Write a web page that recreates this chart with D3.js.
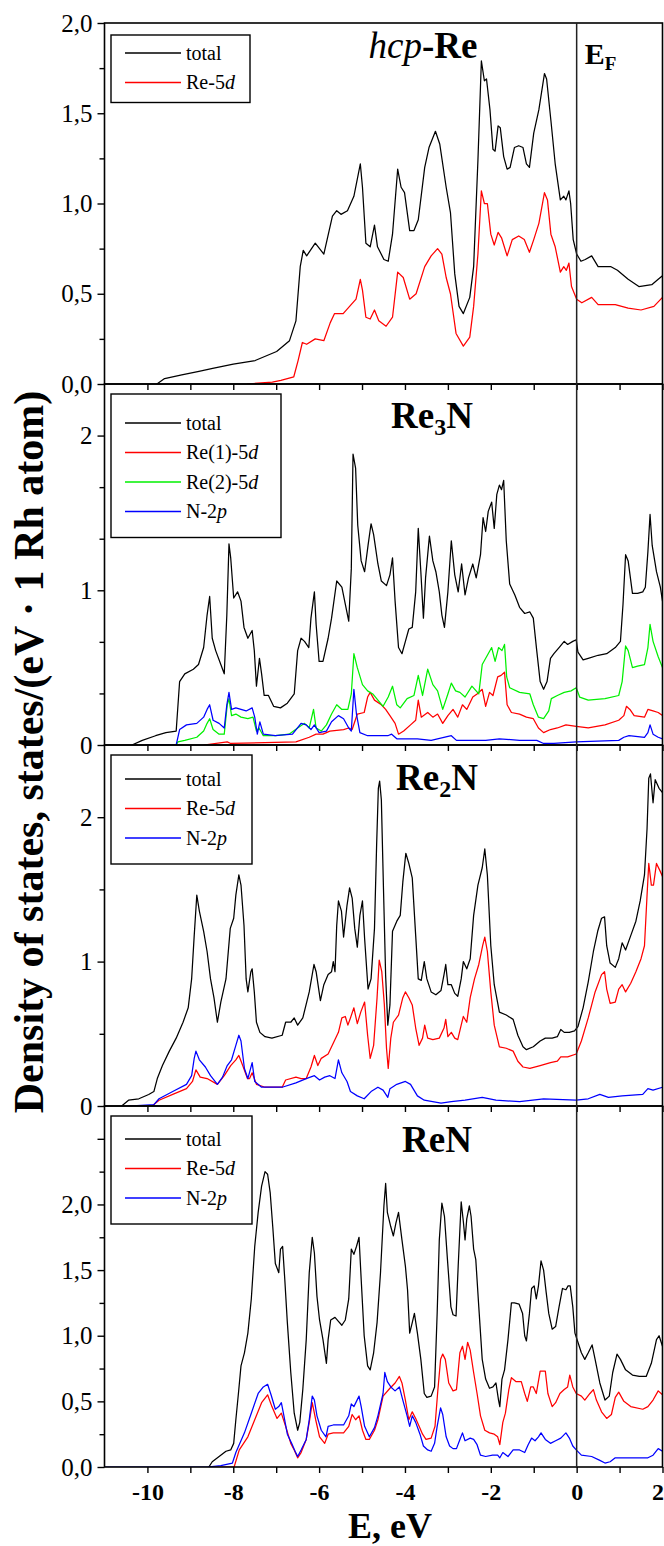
<!DOCTYPE html>
<html>
<head>
<meta charset="utf-8">
<script src="https://cdn.jsdelivr.net/npm/d3@7"></script>
<style>
  body { margin: 0; background: #fff; }
  svg { display: block; font-family: "Liberation Serif", "Times New Roman", serif; }
</style>
</head>
<body>
<svg id="chart" width="664" height="1546"></svg>
<script>
// ---- data: [E (eV), DOS] ----
const hcpTotal = [[-9.78,0],[-9.6,0.03],[-9.2,0.05],[-8.8,0.07],[-8.48,0.087],[-8.0,0.11],[-7.49,0.13],[-6.99,0.18],[-6.69,0.24],[-6.54,0.35],[-6.44,0.65],[-6.37,0.74],[-6.29,0.71],[-6.09,0.78],[-5.89,0.72],[-5.69,0.93],[-5.59,0.96],[-5.49,0.94],[-5.34,0.96],[-5.19,1.04],[-5.04,1.22],[-4.99,1.09],[-4.91,0.78],[-4.81,0.76],[-4.71,0.88],[-4.64,0.76],[-4.49,0.69],[-4.39,0.68],[-4.29,0.83],[-4.17,1.19],[-4.09,1.09],[-4.01,1.06],[-3.89,0.85],[-3.79,0.85],[-3.69,0.91],[-3.54,1.2],[-3.44,1.31],[-3.29,1.4],[-3.19,1.33],[-3.04,1.09],[-2.94,0.95],[-2.84,0.61],[-2.74,0.43],[-2.64,0.39],[-2.49,0.48],[-2.4,0.65],[-2.3,1.24],[-2.22,1.79],[-2.15,1.68],[-2.1,1.69],[-2.02,1.52],[-1.95,1.3],[-1.9,1.29],[-1.83,1.43],[-1.78,1.42],[-1.7,1.26],[-1.62,1.19],[-1.55,1.2],[-1.45,1.31],[-1.35,1.32],[-1.25,1.31],[-1.17,1.22],[-1.1,1.2],[-1.0,1.39],[-0.88,1.52],[-0.75,1.72],[-0.7,1.69],[-0.6,1.46],[-0.5,1.22],[-0.38,1.02],[-0.3,1.04],[-0.25,1.02],[-0.18,1.07],[-0.14,1.0],[-0.08,0.8],[0,0.72],[0.1,0.68],[0.2,0.69],[0.35,0.71],[0.5,0.65],[0.8,0.65],[0.95,0.63],[1.2,0.58],[1.45,0.54],[1.75,0.55],[1.9,0.58],[2.0,0.6]];
const hcpRe5d = [[-7.68,0],[-7.09,0.01],[-6.89,0.02],[-6.59,0.04],[-6.49,0.13],[-6.39,0.23],[-6.29,0.22],[-6.09,0.25],[-5.89,0.24],[-5.74,0.34],[-5.64,0.39],[-5.44,0.39],[-5.29,0.43],[-5.14,0.47],[-5.04,0.58],[-4.99,0.52],[-4.91,0.37],[-4.81,0.36],[-4.71,0.41],[-4.61,0.35],[-4.44,0.32],[-4.29,0.37],[-4.17,0.62],[-4.04,0.59],[-3.89,0.47],[-3.74,0.5],[-3.54,0.65],[-3.39,0.71],[-3.24,0.75],[-3.14,0.72],[-3.04,0.59],[-2.94,0.5],[-2.81,0.28],[-2.64,0.21],[-2.49,0.26],[-2.4,0.43],[-2.3,0.72],[-2.22,1.07],[-2.15,1.0],[-2.08,1.0],[-2.0,0.83],[-1.92,0.77],[-1.83,0.84],[-1.75,0.81],[-1.62,0.71],[-1.5,0.8],[-1.35,0.82],[-1.22,0.8],[-1.1,0.73],[-1.0,0.8],[-0.88,0.89],[-0.75,1.06],[-0.68,1.02],[-0.6,0.83],[-0.5,0.76],[-0.38,0.62],[-0.3,0.65],[-0.24,0.63],[-0.18,0.67],[-0.12,0.54],[0,0.47],[0.12,0.45],[0.35,0.48],[0.5,0.44],[0.9,0.44],[1.2,0.42],[1.5,0.41],[1.8,0.43],[2.0,0.48]];

const re3nTotal = [[-10.36,0],[-10.12,0.03],[-9.81,0.06],[-9.57,0.08],[-9.33,0.09],[-9.25,0.41],[-9.13,0.46],[-8.93,0.49],[-8.81,0.52],[-8.69,0.63],[-8.61,0.84],[-8.55,0.96],[-8.49,0.69],[-8.41,0.61],[-8.29,0.52],[-8.21,0.46],[-8.15,0.84],[-8.1,1.3],[-8.06,1.21],[-7.99,0.95],[-7.9,0.99],[-7.82,0.93],[-7.75,0.76],[-7.66,0.69],[-7.56,0.74],[-7.51,0.61],[-7.46,0.38],[-7.39,0.56],[-7.34,0.46],[-7.28,0.32],[-7.18,0.32],[-7.06,0.25],[-6.9,0.24],[-6.74,0.27],[-6.58,0.33],[-6.5,0.61],[-6.42,0.69],[-6.34,0.67],[-6.24,0.63],[-6.19,0.82],[-6.11,0.99],[-6.07,0.78],[-6.0,0.54],[-5.91,0.54],[-5.79,0.69],[-5.71,0.82],[-5.59,1.06],[-5.47,1.02],[-5.39,0.91],[-5.31,0.8],[-5.25,1.14],[-5.21,1.88],[-5.15,1.79],[-5.1,1.42],[-5.02,1.19],[-4.94,1.12],[-4.86,1.29],[-4.79,1.43],[-4.73,1.36],[-4.63,1.17],[-4.55,1.06],[-4.43,1.03],[-4.35,1.1],[-4.29,1.21],[-4.23,0.93],[-4.15,0.63],[-4.07,0.59],[-3.99,0.67],[-3.91,0.75],[-3.83,0.76],[-3.75,0.99],[-3.69,1.4],[-3.63,1.12],[-3.57,0.82],[-3.52,1.08],[-3.43,1.35],[-3.35,1.19],[-3.28,1.12],[-3.2,0.99],[-3.14,0.84],[-3.08,0.76],[-3.0,0.99],[-2.92,1.32],[-2.84,1.1],[-2.76,0.99],[-2.68,1.17],[-2.6,0.97],[-2.52,1.08],[-2.42,1.17],[-2.34,1.08],[-2.24,1.23],[-2.18,1.47],[-2.12,1.38],[-2.06,1.51],[-1.98,1.57],[-1.92,1.4],[-1.86,1.62],[-1.8,1.68],[-1.75,1.65],[-1.7,1.71],[-1.64,1.32],[-1.56,1.04],[-1.44,0.97],[-1.33,0.89],[-1.21,0.85],[-1.09,0.86],[-1.01,0.82],[-0.93,0.61],[-0.85,0.41],[-0.77,0.36],[-0.69,0.41],[-0.61,0.56],[-0.53,0.59],[-0.41,0.63],[-0.29,0.67],[-0.21,0.65],[-0.09,0.67],[-0.01,0.68],[0.03,0.6],[0.15,0.55],[0.27,0.56],[0.5,0.58],[0.7,0.59],[0.9,0.63],[1.02,0.67],[1.08,0.91],[1.14,1.23],[1.2,1.19],[1.3,0.98],[1.42,0.98],[1.54,0.99],[1.6,1.02],[1.66,1.25],[1.71,1.49],[1.76,1.29],[1.86,1.12],[1.95,1.02],[2.0,0.93]];
const re3nRe1 = [[-8.69,0],[-8.14,0.02],[-8.06,0.01],[-6.54,0.02],[-6.23,0.05],[-6.07,0.07],[-5.91,0.07],[-5.75,0.09],[-5.43,0.1],[-5.31,0.11],[-5.23,0.1],[-5.11,0.2],[-4.95,0.21],[-4.87,0.31],[-4.81,0.34],[-4.71,0.29],[-4.55,0.26],[-4.45,0.23],[-4.35,0.19],[-4.23,0.14],[-4.15,0.07],[-4.03,0.09],[-3.87,0.13],[-3.75,0.16],[-3.69,0.29],[-3.62,0.18],[-3.47,0.21],[-3.35,0.18],[-3.24,0.2],[-3.12,0.14],[-3.0,0.19],[-2.88,0.23],[-2.77,0.18],[-2.66,0.26],[-2.56,0.23],[-2.42,0.31],[-2.32,0.33],[-2.2,0.36],[-2.12,0.25],[-2.03,0.34],[-1.95,0.32],[-1.84,0.44],[-1.76,0.45],[-1.68,0.47],[-1.62,0.26],[-1.52,0.21],[-1.33,0.2],[-1.17,0.18],[-1.01,0.17],[-0.89,0.11],[-0.77,0.08],[-0.61,0.1],[-0.45,0.11],[-0.25,0.13],[-0.01,0.12],[0.27,0.11],[0.66,0.13],[0.98,0.16],[1.1,0.19],[1.16,0.25],[1.24,0.23],[1.34,0.19],[1.58,0.18],[1.66,0.23],[1.78,0.22],[1.9,0.21],[2.0,0.19]];
const re3nRe2 = [[-9.33,0],[-9.29,0.02],[-9.13,0.03],[-8.85,0.05],[-8.69,0.09],[-8.61,0.14],[-8.55,0.17],[-8.47,0.1],[-8.33,0.07],[-8.21,0.07],[-8.14,0.26],[-8.1,0.3],[-8.04,0.19],[-7.94,0.2],[-7.82,0.18],[-7.66,0.17],[-7.54,0.18],[-7.46,0.09],[-7.4,0.11],[-7.3,0.06],[-7.02,0.06],[-6.7,0.07],[-6.5,0.11],[-6.34,0.14],[-6.23,0.11],[-6.13,0.23],[-6.07,0.11],[-5.95,0.09],[-5.83,0.13],[-5.71,0.2],[-5.59,0.26],[-5.47,0.23],[-5.33,0.23],[-5.25,0.33],[-5.19,0.59],[-5.11,0.5],[-4.99,0.39],[-4.87,0.35],[-4.75,0.33],[-4.63,0.29],[-4.51,0.25],[-4.39,0.31],[-4.29,0.38],[-4.19,0.26],[-4.11,0.24],[-3.95,0.3],[-3.79,0.32],[-3.69,0.45],[-3.59,0.32],[-3.47,0.49],[-3.35,0.39],[-3.24,0.35],[-3.12,0.23],[-3.0,0.33],[-2.92,0.4],[-2.82,0.35],[-2.72,0.34],[-2.6,0.31],[-2.44,0.38],[-2.28,0.33],[-2.2,0.52],[-2.08,0.58],[-1.98,0.63],[-1.9,0.54],[-1.82,0.63],[-1.74,0.61],[-1.68,0.65],[-1.63,0.44],[-1.56,0.37],[-1.33,0.34],[-1.09,0.33],[-1.01,0.26],[-0.89,0.18],[-0.77,0.17],[-0.65,0.22],[-0.59,0.3],[-0.45,0.32],[-0.29,0.34],[-0.13,0.35],[-0.01,0.37],[0.07,0.31],[0.27,0.29],[0.66,0.3],[0.98,0.32],[1.06,0.41],[1.14,0.64],[1.2,0.61],[1.3,0.5],[1.42,0.51],[1.58,0.52],[1.66,0.63],[1.71,0.78],[1.78,0.67],[1.9,0.57],[2.0,0.5]];
const re3nN2p = [[-10.05,0],[-9.33,0],[-9.25,0.1],[-9.09,0.13],[-8.85,0.14],[-8.69,0.18],[-8.61,0.23],[-8.55,0.26],[-8.47,0.16],[-8.33,0.14],[-8.21,0.11],[-8.15,0.26],[-8.1,0.34],[-8.04,0.23],[-7.94,0.24],[-7.82,0.23],[-7.7,0.22],[-7.56,0.24],[-7.5,0.18],[-7.44,0.07],[-7.38,0.15],[-7.3,0.07],[-7.02,0.06],[-6.62,0.07],[-6.42,0.14],[-6.3,0.13],[-6.19,0.1],[-6.11,0.13],[-6.0,0.08],[-5.83,0.09],[-5.71,0.15],[-5.55,0.19],[-5.43,0.17],[-5.31,0.11],[-5.25,0.09],[-5.19,0.36],[-5.13,0.2],[-5.05,0.08],[-4.87,0.06],[-4.4,0.06],[-4.31,0.07],[-4.19,0.04],[-3.71,0.04],[-3.39,0.03],[-2.92,0.06],[-2.8,0.03],[-2.12,0.03],[-1.8,0.04],[-1.33,0.03],[-0.93,0.03],[-0.77,0.01],[-0.53,0.01],[-0.01,0.02],[0.98,0.03],[1.1,0.05],[1.22,0.06],[1.58,0.05],[1.66,0.08],[1.71,0.13],[1.78,0.07],[1.9,0.05],[2.0,0.04]];

const re2nTotal = [[-10.6,0],[-10.44,0.04],[-10.2,0.05],[-9.97,0.08],[-9.85,0.1],[-9.77,0.19],[-9.65,0.28],[-9.49,0.38],[-9.33,0.47],[-9.17,0.58],[-9.05,0.68],[-8.97,0.88],[-8.91,1.18],[-8.85,1.46],[-8.79,1.35],[-8.69,1.21],[-8.61,1.07],[-8.53,0.88],[-8.45,0.75],[-8.37,0.58],[-8.29,0.72],[-8.17,0.88],[-8.07,1.23],[-7.99,1.3],[-7.94,1.46],[-7.87,1.6],[-7.82,1.53],[-7.75,1.25],[-7.7,0.88],[-7.66,0.79],[-7.59,0.93],[-7.56,0.95],[-7.51,0.79],[-7.46,0.58],[-7.38,0.51],[-7.26,0.48],[-7.1,0.47],[-6.86,0.49],[-6.78,0.58],[-6.66,0.58],[-6.58,0.61],[-6.5,0.56],[-6.38,0.61],[-6.23,0.79],[-6.12,0.98],[-6.07,0.93],[-5.97,0.73],[-5.89,0.84],[-5.79,0.91],[-5.71,0.93],[-5.67,1.0],[-5.63,0.93],[-5.59,1.25],[-5.55,1.42],[-5.48,1.35],[-5.43,1.17],[-5.35,1.39],[-5.29,1.51],[-5.23,1.44],[-5.17,1.23],[-5.11,1.1],[-5.05,1.32],[-4.99,1.42],[-4.94,1.16],[-4.86,0.81],[-4.79,0.88],[-4.71,1.23],[-4.66,1.81],[-4.62,2.2],[-4.59,2.25],[-4.55,2.12],[-4.5,1.5],[-4.45,0.9],[-4.4,0.56],[-4.35,0.7],[-4.29,1.21],[-4.19,1.28],[-4.11,1.32],[-4.05,1.55],[-3.98,1.75],[-3.91,1.68],[-3.83,1.58],[-3.75,1.18],[-3.69,0.88],[-3.62,0.87],[-3.55,1.0],[-3.49,0.88],[-3.39,0.79],[-3.28,0.77],[-3.16,0.8],[-3.09,0.91],[-3.05,0.98],[-3.0,0.84],[-2.92,0.84],[-2.84,0.78],[-2.77,0.76],[-2.69,0.88],[-2.64,1.0],[-2.56,0.95],[-2.48,1.02],[-2.4,1.32],[-2.3,1.53],[-2.2,1.65],[-2.14,1.78],[-2.08,1.6],[-2.0,1.11],[-1.92,0.84],[-1.8,0.65],[-1.64,0.63],[-1.48,0.6],[-1.37,0.49],[-1.25,0.41],[-1.17,0.39],[-1.01,0.41],[-0.85,0.45],[-0.73,0.47],[-0.57,0.47],[-0.45,0.48],[-0.37,0.53],[-0.29,0.51],[-0.17,0.51],[-0.05,0.52],[0.03,0.55],[0.15,0.68],[0.27,0.86],[0.39,1.07],[0.49,1.21],[0.58,1.3],[0.65,1.31],[0.7,1.11],[0.78,0.99],[0.9,0.96],[0.98,1.02],[1.06,1.13],[1.14,1.08],[1.26,1.18],[1.38,1.28],[1.48,1.42],[1.58,1.6],[1.64,1.92],[1.68,2.27],[1.72,2.3],[1.78,2.1],[1.83,2.26],[1.92,2.2],[2.0,2.17]];
const re2nRe5d = [[-10.44,0],[-9.89,0],[-9.73,0.04],[-9.41,0.08],[-9.09,0.12],[-8.95,0.17],[-8.87,0.25],[-8.77,0.2],[-8.61,0.19],[-8.37,0.15],[-8.21,0.21],[-8.06,0.28],[-7.94,0.32],[-7.87,0.35],[-7.78,0.28],[-7.67,0.19],[-7.62,0.19],[-7.56,0.23],[-7.46,0.15],[-7.26,0.13],[-6.86,0.13],[-6.78,0.18],[-6.54,0.2],[-6.42,0.19],[-6.3,0.19],[-6.19,0.27],[-6.11,0.35],[-6.03,0.28],[-5.95,0.33],[-5.79,0.36],[-5.63,0.46],[-5.55,0.51],[-5.47,0.61],[-5.39,0.62],[-5.33,0.56],[-5.27,0.61],[-5.19,0.68],[-5.11,0.57],[-5.03,0.65],[-4.94,0.72],[-4.87,0.49],[-4.81,0.33],[-4.73,0.42],[-4.65,0.75],[-4.6,1.01],[-4.54,0.93],[-4.48,0.7],[-4.43,0.4],[-4.39,0.26],[-4.33,0.47],[-4.27,0.58],[-4.15,0.63],[-4.05,0.75],[-3.99,0.79],[-3.91,0.75],[-3.83,0.7],[-3.75,0.54],[-3.67,0.42],[-3.59,0.47],[-3.54,0.56],[-3.47,0.47],[-3.35,0.46],[-3.2,0.47],[-3.09,0.54],[-3.05,0.6],[-3.0,0.48],[-2.92,0.51],[-2.84,0.47],[-2.77,0.46],[-2.69,0.56],[-2.64,0.62],[-2.56,0.58],[-2.48,0.75],[-2.38,0.88],[-2.28,0.98],[-2.19,1.11],[-2.14,1.17],[-2.08,1.07],[-2.0,0.79],[-1.92,0.56],[-1.8,0.41],[-1.64,0.4],[-1.48,0.38],[-1.37,0.31],[-1.25,0.27],[-1.09,0.26],[-0.85,0.28],[-0.61,0.3],[-0.45,0.31],[-0.37,0.34],[-0.21,0.34],[-0.01,0.36],[0.11,0.45],[0.27,0.61],[0.43,0.79],[0.58,0.91],[0.65,0.93],[0.7,0.81],[0.78,0.71],[0.9,0.72],[0.98,0.81],[1.06,0.84],[1.14,0.79],[1.26,0.85],[1.38,0.93],[1.5,1.02],[1.58,1.11],[1.64,1.46],[1.68,1.68],[1.74,1.53],[1.79,1.53],[1.86,1.68],[1.94,1.63],[2.0,1.59]];
const re2nN2p = [[-10.44,0],[-9.85,0.01],[-9.73,0.05],[-9.41,0.1],[-9.09,0.15],[-8.97,0.21],[-8.91,0.33],[-8.87,0.38],[-8.79,0.32],[-8.65,0.27],[-8.53,0.21],[-8.37,0.15],[-8.25,0.2],[-8.14,0.28],[-8.04,0.32],[-7.94,0.42],[-7.87,0.49],[-7.82,0.45],[-7.74,0.26],[-7.66,0.19],[-7.56,0.3],[-7.5,0.17],[-7.34,0.13],[-6.86,0.13],[-6.54,0.16],[-6.3,0.19],[-6.11,0.21],[-5.99,0.18],[-5.87,0.2],[-5.75,0.21],[-5.63,0.19],[-5.55,0.32],[-5.47,0.23],[-5.35,0.17],[-5.27,0.1],[-5.11,0.07],[-4.95,0.05],[-4.79,0.1],[-4.63,0.13],[-4.51,0.11],[-4.4,0.06],[-4.35,0.12],[-4.19,0.15],[-3.99,0.17],[-3.87,0.15],[-3.71,0.07],[-3.55,0.04],[-3.16,0.02],[-2.92,0.03],[-2.6,0.04],[-2.2,0.06],[-1.88,0.04],[-1.33,0.03],[-0.77,0.05],[-0.01,0.04],[0.27,0.05],[0.54,0.08],[0.74,0.06],[1.06,0.07],[1.54,0.08],[1.66,0.12],[1.78,0.11],[2.0,0.13]];

const renTotal = [[-8.57,0],[-8.49,0.04],[-8.33,0.08],[-8.17,0.12],[-8.06,0.13],[-7.99,0.18],[-7.94,0.36],[-7.88,0.56],[-7.82,0.77],[-7.74,0.87],[-7.66,1.02],[-7.58,1.28],[-7.5,1.68],[-7.42,1.94],[-7.34,2.14],[-7.26,2.25],[-7.2,2.23],[-7.14,2.09],[-7.08,1.83],[-7.02,1.55],[-6.94,1.48],[-6.9,1.66],[-6.85,1.68],[-6.8,1.43],[-6.74,1.1],[-6.66,0.72],[-6.58,0.41],[-6.5,0.28],[-6.45,0.34],[-6.38,0.59],[-6.3,0.97],[-6.23,1.48],[-6.16,1.75],[-6.11,1.63],[-6.05,1.3],[-5.99,1.12],[-5.91,0.97],[-5.83,0.79],[-5.79,0.97],[-5.73,1.12],[-5.63,1.14],[-5.55,1.11],[-5.47,1.08],[-5.39,1.12],[-5.31,1.28],[-5.25,1.66],[-5.19,1.62],[-5.13,1.68],[-5.07,1.75],[-5.02,1.43],[-4.95,1.0],[-4.87,0.77],[-4.81,0.74],[-4.73,0.87],[-4.65,1.1],[-4.57,1.48],[-4.49,1.99],[-4.45,2.16],[-4.41,1.94],[-4.33,1.83],[-4.27,1.76],[-4.21,1.86],[-4.15,1.94],[-4.07,1.73],[-3.99,1.53],[-3.94,1.35],[-3.89,1.02],[-3.83,1.1],[-3.78,1.17],[-3.71,1.02],[-3.63,0.82],[-3.55,0.56],[-3.49,0.53],[-3.39,0.54],[-3.31,0.61],[-3.25,1.17],[-3.2,1.73],[-3.14,2.01],[-3.08,1.91],[-3.01,1.58],[-2.93,1.22],[-2.88,1.16],[-2.81,1.15],[-2.76,1.53],[-2.69,2.02],[-2.64,1.87],[-2.6,1.73],[-2.56,1.89],[-2.5,1.99],[-2.46,1.91],[-2.4,1.66],[-2.35,1.58],[-2.28,1.22],[-2.2,0.82],[-2.12,0.67],[-2.03,0.6],[-1.95,0.61],[-1.88,0.64],[-1.82,0.51],[-1.79,0.46],[-1.74,0.67],[-1.68,0.74],[-1.6,0.97],[-1.52,1.25],[-1.45,1.25],[-1.34,1.24],[-1.26,1.17],[-1.21,1.0],[-1.17,0.96],[-1.1,1.17],[-1.05,1.36],[-0.99,1.38],[-0.94,1.28],[-0.89,1.38],[-0.83,1.57],[-0.77,1.5],[-0.71,1.33],[-0.65,1.17],[-0.57,1.05],[-0.49,1.07],[-0.41,1.22],[-0.33,1.36],[-0.25,1.35],[-0.2,1.38],[-0.15,1.38],[-0.09,1.22],[-0.04,1.02],[0.03,0.95],[0.11,0.87],[0.19,0.82],[0.27,0.87],[0.36,0.93],[0.43,0.82],[0.54,0.64],[0.66,0.51],[0.76,0.54],[0.84,0.72],[0.94,0.86],[1.02,0.82],[1.14,0.74],[1.3,0.7],[1.46,0.69],[1.62,0.69],[1.74,0.79],[1.86,0.97],[1.92,1.0],[2.0,0.92]];
const renRe5d = [[-8.57,0],[-7.98,0],[-7.86,0.13],[-7.66,0.23],[-7.5,0.36],[-7.34,0.49],[-7.2,0.55],[-7.1,0.46],[-6.98,0.37],[-6.88,0.41],[-6.78,0.31],[-6.66,0.18],[-6.58,0.13],[-6.5,0.07],[-6.42,0.11],[-6.3,0.21],[-6.23,0.34],[-6.16,0.49],[-6.08,0.36],[-5.99,0.23],[-5.87,0.18],[-5.79,0.25],[-5.67,0.26],[-5.43,0.26],[-5.31,0.31],[-5.23,0.4],[-5.15,0.36],[-5.07,0.39],[-4.99,0.28],[-4.91,0.21],[-4.83,0.21],[-4.71,0.28],[-4.63,0.36],[-4.51,0.54],[-4.35,0.6],[-4.23,0.64],[-4.13,0.69],[-4.07,0.64],[-3.99,0.51],[-3.91,0.36],[-3.83,0.42],[-3.75,0.37],[-3.67,0.31],[-3.59,0.25],[-3.51,0.21],[-3.39,0.22],[-3.3,0.31],[-3.24,0.56],[-3.17,0.82],[-3.12,0.86],[-3.06,0.82],[-2.98,0.64],[-2.88,0.58],[-2.8,0.59],[-2.72,0.87],[-2.66,0.92],[-2.6,0.82],[-2.54,0.95],[-2.48,0.89],[-2.4,0.72],[-2.32,0.56],[-2.24,0.39],[-2.14,0.28],[-2.03,0.26],[-1.92,0.25],[-1.84,0.23],[-1.79,0.17],[-1.72,0.34],[-1.66,0.41],[-1.58,0.59],[-1.52,0.68],[-1.41,0.65],[-1.29,0.65],[-1.21,0.56],[-1.15,0.5],[-1.07,0.61],[-1.01,0.61],[-0.94,0.56],[-0.85,0.73],[-0.73,0.73],[-0.67,0.56],[-0.57,0.46],[-0.49,0.49],[-0.39,0.56],[-0.29,0.59],[-0.21,0.61],[-0.16,0.7],[-0.09,0.61],[-0.01,0.56],[0.11,0.54],[0.19,0.51],[0.31,0.56],[0.39,0.59],[0.46,0.51],[0.58,0.42],[0.7,0.37],[0.81,0.4],[0.9,0.53],[0.98,0.57],[1.1,0.5],[1.26,0.46],[1.54,0.44],[1.66,0.46],[1.78,0.51],[1.9,0.58],[2.0,0.55]];
const renN2p = [[-11,0],[-8.61,0],[-8.29,0.01],[-8.02,0.03],[-7.94,0.11],[-7.74,0.26],[-7.58,0.41],[-7.42,0.56],[-7.3,0.61],[-7.2,0.63],[-7.12,0.55],[-7.02,0.44],[-6.94,0.46],[-6.88,0.49],[-6.82,0.39],[-6.74,0.25],[-6.64,0.18],[-6.56,0.12],[-6.5,0.08],[-6.42,0.13],[-6.3,0.21],[-6.23,0.36],[-6.16,0.54],[-6.11,0.51],[-6.05,0.39],[-5.95,0.28],[-5.84,0.23],[-5.79,0.31],[-5.67,0.32],[-5.43,0.32],[-5.31,0.39],[-5.25,0.48],[-5.19,0.46],[-5.07,0.54],[-5.02,0.46],[-4.94,0.31],[-4.83,0.23],[-4.71,0.3],[-4.63,0.39],[-4.51,0.56],[-4.47,0.72],[-4.41,0.65],[-4.33,0.61],[-4.23,0.58],[-4.13,0.61],[-4.05,0.51],[-3.95,0.39],[-3.89,0.31],[-3.83,0.39],[-3.75,0.34],[-3.65,0.25],[-3.57,0.16],[-3.47,0.13],[-3.39,0.12],[-3.31,0.18],[-3.25,0.31],[-3.17,0.45],[-3.12,0.4],[-3.04,0.23],[-2.96,0.16],[-2.88,0.14],[-2.8,0.14],[-2.72,0.21],[-2.66,0.26],[-2.6,0.2],[-2.48,0.22],[-2.4,0.21],[-2.32,0.17],[-2.24,0.09],[-2.12,0.08],[-1.96,0.09],[-1.84,0.09],[-1.79,0.07],[-1.72,0.11],[-1.6,0.08],[-1.48,0.13],[-1.33,0.13],[-1.21,0.11],[-1.13,0.17],[-1.05,0.22],[-0.97,0.2],[-0.89,0.23],[-0.83,0.26],[-0.73,0.21],[-0.61,0.18],[-0.49,0.2],[-0.37,0.22],[-0.25,0.26],[-0.17,0.22],[-0.09,0.16],[-0.01,0.13],[0.11,0.09],[0.35,0.08],[0.54,0.05],[0.66,0.03],[0.78,0.04],[0.9,0.07],[1.06,0.07],[1.38,0.07],[1.66,0.07],[1.78,0.09],[1.9,0.14],[2.0,0.12]];

// axis ticks
const energyDomain = [-11, 2];
const energyTicks = d3.range(-10, 3, 1);
const energyLabels = [-10, -8, -6, -4, -2, 0, 2];
const yMaxes = [2.0, 7 / 3, 2.5, 2.75];
const yMajorTicks = [[0, 0.5, 1, 1.5, 2], [0, 1, 2], [0, 1, 2], [0, 0.5, 1, 1.5, 2, 2.5]];
const yMinorTicks = [[0.25, 0.75, 1.25, 1.75], [1 / 3, 2 / 3, 4 / 3, 5 / 3], [0.5, 1.5], [0.25, 0.75, 1.25, 1.75, 2.25]];
const yLabelled = [[0, 0.5, 1, 1.5, 2], [0, 1, 2], [0, 1, 2], [0, 0.5, 1, 1.5, 2]];

const BLACK = '#000', RED = '#ff0000', GREEN = '#00f000', BLUE = '#0000ff';

const commaFmt = d => d3.format('.1f')(d).replace('.', ',');
const intFmt = d => String(d);

const panels = [
    {
        title: [{ t: 'hcp', italic: true }, { t: '-Re' }],
        titleX: 423, titleBase: 35, fmt: commaFmt,
        series: [
            { data: hcpTotal, color: BLACK, label: ['total', ''] },
            { data: hcpRe5d, color: RED, label: ['Re-5', 'd'] }
        ],
        legend: { top: 12, width: 139, first: 18 }
    },
    {
        title: [{ t: 'Re' }, { t: '3', sub: true }, { t: 'N' }],
        titleX: 432, titleBase: 44, fmt: intFmt,
        series: [
            { data: re3nTotal, color: BLACK, label: ['total', ''] },
            { data: re3nRe1, color: RED, label: ['Re(1)-5', 'd'] },
            { data: re3nRe2, color: GREEN, label: ['Re(2)-5', 'd'] },
            { data: re3nN2p, color: BLUE, label: ['N-2', 'p'] }
        ],
        legend: { top: 10, width: 170, first: 29 }
    },
    {
        title: [{ t: 'Re' }, { t: '2', sub: true }, { t: 'N' }],
        titleX: 437, titleBase: 45, fmt: intFmt,
        series: [
            { data: re2nTotal, color: BLACK, label: ['total', ''] },
            { data: re2nRe5d, color: RED, label: ['Re-5', 'd'] },
            { data: re2nN2p, color: BLUE, label: ['N-2', 'p'] }
        ],
        legend: { top: 10, width: 141, first: 24 }
    },
    {
        title: [{ t: 'ReN' }],
        titleX: 437, titleBase: 46, fmt: commaFmt,
        series: [
            { data: renTotal, color: BLACK, label: ['total', ''] },
            { data: renRe5d, color: RED, label: ['Re-5', 'd'] },
            { data: renN2p, color: BLUE, label: ['N-2', 'p'] }
        ],
        legend: { top: 10, width: 141, first: 23 }
    }
];

const svg = d3.select('#chart');
const plotLeft = 104.5, plotRight = 662.5;
const panelTops = [23, 384, 745, 1106];
const panelH = 361;

const x = d3.scaleLinear().domain(energyDomain).range([plotLeft, plotRight]);

svg.append('rect').attr('width', 664).attr('height', 1546).attr('fill', '#fff');

panels.forEach((p, i) => {
    const top = panelTops[i];
    const bottom = top + panelH;
    const y = d3.scaleLinear().domain([0, yMaxes[i]]).range([bottom, top]);
    const g = svg.append('g');

    g.append('clipPath').attr('id', 'clip' + i)
        .append('rect').attr('x', plotLeft).attr('y', top).attr('width', plotRight - plotLeft).attr('height', panelH);

    const line = d3.line().x(d => x(d[0])).y(d => y(d[1]));
    const curves = g.append('g').attr('clip-path', `url(#clip${i})`);
    p.series.forEach(s => {
        curves.append('path')
            .attr('d', line(s.data))
            .attr('fill', 'none')
            .attr('stroke', s.color)
            .attr('stroke-width', 1.25)
            .attr('stroke-linejoin', 'round');
    });

    // y axis: major + minor ticks
    const yAxis = g.append('g').attr('transform', `translate(${plotLeft},0)`)
        .call(d3.axisLeft(y).tickValues(yMajorTicks[i]).tickSize(7).tickPadding(5)
            .tickFormat(d => yLabelled[i].includes(d) ? p.fmt(d) : ''));
    yAxis.select('.domain').remove();
    yAxis.selectAll('line').attr('stroke', '#000').attr('stroke-width', 1.4);
    yAxis.selectAll('text')
        .attr('font-family', '"Liberation Serif", serif')
        .attr('font-size', 25).attr('fill', '#000');

    const yMinor = g.append('g').attr('transform', `translate(${plotLeft},0)`)
        .call(d3.axisLeft(y).tickValues(yMinorTicks[i]).tickSize(5).tickFormat(''));
    yMinor.select('.domain').remove();
    yMinor.selectAll('line').attr('stroke', '#000').attr('stroke-width', 1.4);

    // x axis ticks at panel bottom, labels only under the last panel
    const last = i === panels.length - 1;
    const xAxis = g.append('g').attr('transform', `translate(0,${bottom})`)
        .call(d3.axisBottom(x).tickValues(energyTicks).tickSize(6).tickPadding(10)
            .tickFormat(d => last && energyLabels.includes(d) ? String(d) : ''));
    xAxis.select('.domain').remove();
    xAxis.selectAll('line').attr('stroke', '#000').attr('stroke-width', 1.4);
    xAxis.selectAll('text')
        .attr('font-family', '"Liberation Serif", serif')
        .attr('font-size', 24).attr('font-weight', 'bold').attr('fill', '#000');
    // keep the right-most label inside the page
    xAxis.selectAll('.tick').filter(d => d === energyDomain[1]).select('text')
        .attr('text-anchor', 'end').attr('x', 1);

    // frame
    g.append('rect')
        .attr('x', plotLeft).attr('y', top)
        .attr('width', plotRight - plotLeft).attr('height', panelH)
        .attr('fill', 'none').attr('stroke', '#000').attr('stroke-width', 1.6);

    // legend
    const lg = p.legend;
    const rowStep = 29.5;
    const boxTop = top + lg.top;
    const boxH = lg.first + (p.series.length - 1) * rowStep + (i === 0 ? 20 : 26);
    g.append('rect')
        .attr('x', 111).attr('y', boxTop).attr('width', lg.width).attr('height', boxH)
        .attr('fill', '#fff').attr('stroke', '#000').attr('stroke-width', 1.4);
    p.series.forEach((s, k) => {
        const ry = boxTop + lg.first + k * rowStep;
        g.append('line').attr('x1', 125).attr('x2', 181).attr('y1', ry).attr('y2', ry)
            .attr('stroke', s.color).attr('stroke-width', 1.5);
        const t = g.append('text').attr('x', 186).attr('y', ry + 6.5)
            .attr('font-size', 20).attr('fill', '#000');
        t.append('tspan').text(s.label[0]);
        if (s.label[1]) t.append('tspan').attr('font-style', 'italic').text(s.label[1]);
    });

    // panel title
    const tt = g.append('text')
        .attr('x', p.titleX).attr('y', top + p.titleBase)
        .attr('text-anchor', 'middle').attr('font-size', 37).attr('font-weight', 'bold').attr('fill', '#000');
    let wasSub = false;
    p.title.forEach(part => {
        const ts = tt.append('tspan').text(part.t);
        if (part.italic) ts.attr('font-style', 'italic').attr('font-weight', 'normal');
        if (part.sub) ts.attr('font-size', 24).attr('dy', 7);
        else if (wasSub) ts.attr('dy', -7);
        wasSub = !!part.sub;
    });
});

// Fermi level line through all panels
svg.append('line')
    .attr('x1', x(0)).attr('x2', x(0))
    .attr('y1', panelTops[0]).attr('y2', panelTops[3] + panelH)
    .attr('stroke', '#222').attr('stroke-width', 1.5);

const ef = svg.append('text').attr('x', x(0) + 8).attr('y', 64)
    .attr('font-size', 30).attr('font-weight', 'bold').attr('fill', '#000');
ef.append('tspan').text('E');
ef.append('tspan').attr('font-size', 19).attr('dy', 6).text('F');

// axis titles
svg.append('text')
    .attr('x', 390).attr('y', 1538)
    .attr('text-anchor', 'middle').attr('font-size', 36).attr('font-weight', 'bold')
    .text('E, eV');

svg.append('text')
    .attr('transform', 'translate(43,752) rotate(-90)')
    .attr('text-anchor', 'middle').attr('font-size', 42).attr('font-weight', 'bold')
    .text('Density of states, states/(eV · 1 Rh atom)');
</script>
</body>
</html>
